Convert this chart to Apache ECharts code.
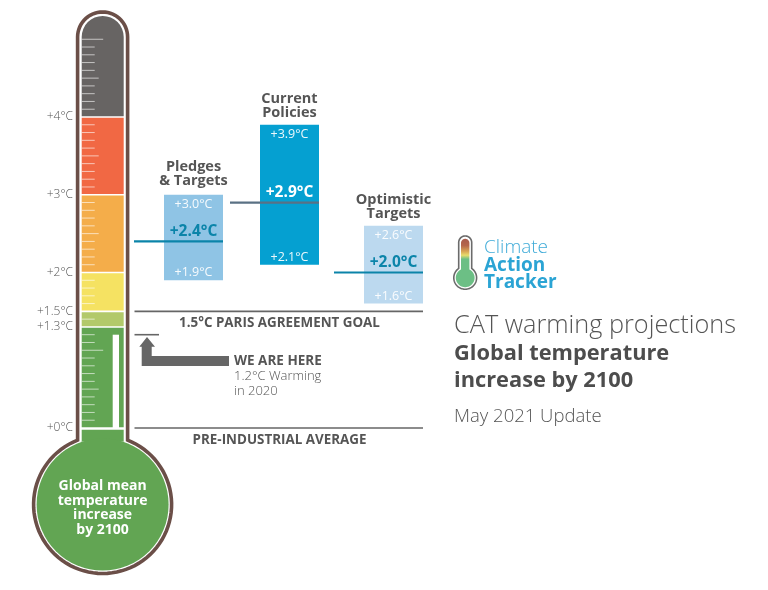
<!DOCTYPE html>
<html>
<head>
  <meta http-equiv="Content-Type" content="text/html; charset=utf-8"/>
  <title>CAT warming projections</title>
  <script src="https://cdnjs.cloudflare.com/ajax/libs/echarts/6.0.0/echarts.min.js"></script>
  <style>html,body{margin:0;padding:0;background:#fff}</style>
</head>
<body>
<div id="main" style="width:768px;height:590px"></div>
<script type="text/javascript">
// thermometer scale, degrees above pre-industrial
var tempLabels = [0, 1.3, 1.5, 2, 3, 4];
var bandFrom = [0, 1.3, 1.5, 2, 3, 4];
var bandTo = [1.3, 1.5, 2, 3, 4, 5.3];
var currentWarming = 1.2;

// scenarios
var scenarioNames = ['Pledges\n& Targets', 'Current\nPolicies', 'Optimistic\nTargets'];
var scenarioHigh = [3.0, 3.9, 2.6];
var scenarioMean = [2.4, 2.9, 2.0];
var scenarioLow = [1.9, 2.1, 1.6];

// reference lines
var refValues = [1.5, 0];
var refNames = ['1.5°C PARIS AGREEMENT GOAL', 'PRE-INDUSTRIAL AVERAGE'];

// colours
var bandColors = ['#62a553', '#b2c96a', '#f5e262', '#f4ad4a', '#f16844', '#676463'];
var barColors = ['#8fc4e5', '#05a0d1', '#bcd9ef'];
var meanLineColors = ['#0b84a9', '#5a7184', '#0b84a9'];
var meanTextColors = ['#0b84a9', '#ffffff', '#0b84a9'];
var brown = '#6b4f48', grey = '#555555', lineGrey = '#666666';
var FONT = '"Open Sans", sans-serif';

// layout, pixels (x axis runs 1:1 with the canvas)
var barRight = [223, 319, 423];
var nameLift = [2, 0, 0];
var barW = 59, meanW = 89;
var tubeL = 81.7, tubeR = 123.7;

function fmt(v) { return '+' + v.toFixed(1) + '°C'; }

// outline of a thermometer: tube + dome on top + bulb at the bottom
function thermo(cx, half, domeY, bulbY, r) {
  var pts = [], i, a;
  var a0 = Math.asin(half / r);
  var joinY = bulbY - Math.cos(a0) * r;
  pts.push([cx - half, joinY]);
  for (i = 0; i <= 30; i++) {
    a = Math.PI - Math.PI * i / 30;
    pts.push([cx + Math.cos(a) * half, domeY - Math.sin(a) * half]);
  }
  pts.push([cx + half, joinY]);
  for (i = 1; i < 80; i++) {
    a = a0 + (2 * Math.PI - 2 * a0) * i / 80;
    pts.push([cx + Math.sin(a) * r, bulbY - Math.cos(a) * r]);
  }
  return pts;
}

function txt(x, y, text, size, weight, color, align) {
  return {
    type: 'text', z: 20,
    style: {
      x: x, y: y, text: text, fill: color, align: align || 'left', verticalAlign: 'middle',
      font: weight + ' ' + size + 'px ' + FONT
    }
  };
}

function lineEl(x1, x2, y, color, w) {
  return { type: 'line', shape: { x1: x1, y1: y, x2: x2, y2: y }, style: { stroke: color, lineWidth: w } };
}

var chart = echarts.init(document.getElementById('main'));

chart.setOption({
  animation: false,
  grid: { left: 0, right: 0, top: 0.375, bottom: 162 },
  xAxis: { type: 'value', min: 0, max: 768, show: false },
  yAxis: {
    type: 'value', min: 0, max: 5.5, offset: -80,
    axisLine: { show: false }, axisTick: { show: false }, splitLine: { show: false },
    axisLabel: {
      customValues: tempLabels, margin: 7, color: grey, fontFamily: FONT, fontSize: 12,
      fontWeight: 300, padding: [2, 0, 0, 0],
      formatter: function (v) { return '+' + v + '°C'; }
    }
  },
  graphic: [
    // thermometer glass and bulb
    { type: 'polygon', z: 1, shape: { points: thermo(102.6, 25, 37, 504.5, 69) }, style: { fill: '#fff', stroke: brown, lineWidth: 3.6 } },
    { type: 'polygon', z: 2, shape: { points: [[tubeL, 429.7], [tubeR, 429.7], [tubeR, 441.5], [tubeL, 441.5]] }, style: { fill: bandColors[0] } },
    { type: 'circle', z: 2, shape: { cx: 102.6, cy: 504.5, r: 66 }, style: { fill: bandColors[0] } },
    // arrow to the current warming line
    { type: 'polygon', z: 3, shape: { points: [[147, 337], [155, 346.7], [151.7, 346.7], [151.7, 356], [229, 356], [229, 366], [141.7, 366], [141.7, 346.7], [139.3, 346.7]] }, style: { fill: lineGrey } },
    // logo
    { type: 'polygon', z: 3, shape: { points: thermo(465.2, 6.5, 242.5, 277.8, 11.4) }, style: { fill: '#fff', stroke: '#6b6b6b', lineWidth: 1.6 } },
    { type: 'polygon', z: 4, shape: { points: thermo(465.2, 4.2, 243, 277.8, 9.4) }, style: { fill: {
      type: 'linear', x: 0, y: 0, x2: 0, y2: 1,
      colorStops: [{ offset: 0, color: '#a85a4c' }, { offset: 0.14, color: '#b5664c' }, { offset: 0.26, color: '#d9a655' }, { offset: 0.34, color: '#e8dc6c' }, { offset: 0.42, color: '#6cbf85' }, { offset: 1, color: '#6cbf85' }]
    } } },
    // text
    { type: 'text', z: 20, style: { x: 102.6, y: 508, text: 'Global mean\ntemperature\nincrease\nby 2100', fill: '#fff', align: 'center', verticalAlign: 'middle', lineHeight: 14.7, font: 'bold 14px ' + FONT } },
    txt(234, 361, 'WE ARE HERE', 13.5, 'bold', grey),
    txt(234, 376, '1.2°C Warming', 13, 300, grey),
    txt(234, 391, 'in 2020', 13, 300, grey),
    txt(484, 248, 'Climate', 19, 300, '#3fabd8'),
    txt(484, 266, 'Action', 19, 'bold', '#2ba4d4'),
    txt(484, 283, 'Tracker', 19, 'bold', '#2ba4d4'),
    txt(454, 326, 'CAT warming projections', 25.3, 300, '#555555'),
    txt(454, 354, 'Global temperature', 21.8, 'bold', '#4d4d4d'),
    txt(454, 381, 'increase by 2100', 21.8, 'bold', '#4d4d4d'),
    txt(454, 417, 'May 2021 Update', 18.5, 300, '#555555')
  ],
  series: [
    {
      // coloured bands inside the tube
      type: 'custom', coordinateSystem: 'cartesian2d', clip: false, z: 5,
      data: bandFrom.map(function (v, i) { return [v, bandTo[i]]; }),
      renderItem: function (params, api) {
        var i = params.dataIndex;
        var yLo = api.coord([0, api.value(0)])[1];
        var yHi = api.coord([0, api.value(1)])[1];
        var last = i === bandColors.length - 1;
        return {
          type: 'rect',
          shape: { x: tubeL, y: yHi + (last ? 0 : 0.8), width: tubeR - tubeL, height: yLo - yHi - (last ? 0.8 : 1.6), r: last ? [21, 21, 0, 0] : 0 },
          style: { fill: bandColors[i] }
        };
      }
    },
    {
      // tenth-of-a-degree ticks, longer at each half and whole degree
      type: 'custom', coordinateSystem: 'cartesian2d', clip: false, z: 6,
      data: [1,2,3,4,5,6,7,8,9,10,11,12,14,16,17,18,19,21,22,23,24,25,26,27,28,29,31,32,33,34,35,36,37,38,39,41,42,43,44,45,46,47,48,49,50],
      renderItem: function (params, api) {
        var n = api.value(0);
        var y = api.coord([0, n / 10])[1];
        var len = n % 10 === 0 ? 21.5 : (n % 5 === 0 ? 17 : 13);
        return lineEl(tubeL, tubeL + len, y, 'rgba(255,255,255,0.62)', 1);
      },
      encode: { y: 0 }
    },
    {
      // white column, warming so far
      type: 'custom', coordinateSystem: 'cartesian2d', clip: false, z: 7,
      data: [[currentWarming]],
      renderItem: function (params, api) {
        var top = api.coord([0, api.value(0)])[1], base = api.coord([0, 0])[1];
        return { type: 'rect', shape: { x: 112.7, y: top, width: 6.3, height: base - top }, style: { fill: '#fff' } };
      }
    },
    {
      // reference lines and their captions
      type: 'custom', coordinateSystem: 'cartesian2d', clip: false, z: 8,
      data: refValues.map(function (v) { return [v]; }),
      renderItem: function (params, api) {
        var y = api.coord([0, api.value(0)])[1];
        return {
          type: 'group',
          children: [
            lineEl(134.5, 423, y, lineGrey, 1.6),
            txt(279.5, y + 12, refNames[params.dataIndex], 13.4, 'bold', grey, 'center')
          ]
        };
      }
    },
    {
      type: 'custom', coordinateSystem: 'cartesian2d', clip: false, z: 8,
      data: [[currentWarming]],
      renderItem: function (params, api) {
        return lineEl(134.5, 159, api.coord([0, api.value(0)])[1], lineGrey, 1.6);
      }
    },
    {
      // scenario ranges
      type: 'custom', coordinateSystem: 'cartesian2d', clip: false, z: 10,
      data: scenarioNames.map(function (n, i) { return [scenarioHigh[i], scenarioMean[i], scenarioLow[i]]; }),
      renderItem: function (params, api) {
        var i = params.dataIndex;
        var right = barRight[i], cx = right - barW / 2;
        var hi = api.value(0), mean = api.value(1), lo = api.value(2);
        var yHi = api.coord([0, hi])[1], yMean = api.coord([0, mean])[1], yLo = api.coord([0, lo])[1];
        return {
          type: 'group',
          children: [
            { type: 'rect', shape: { x: right - barW, y: yHi, width: barW, height: yLo - yHi }, style: { fill: barColors[i] } },
            lineEl(right - meanW, right, yMean, meanLineColors[i], 2.2),
            txt(cx, yHi + 9.5, fmt(hi), 12.5, 400, 'rgba(255,255,255,0.92)', 'center'),
            txt(cx, yLo - 7.5, fmt(lo), 12.5, 400, 'rgba(255,255,255,0.92)', 'center'),
            txt(cx, yMean - 9.5, fmt(mean), 15.5, 'bold', meanTextColors[i], 'center'),
            txt(cx, yHi - 26 - nameLift[i], scenarioNames[i].split('\n')[0], 14.5, 'bold', grey, 'center'),
            txt(cx, yHi - 11.5 - nameLift[i], scenarioNames[i].split('\n')[1], 14.5, 'bold', grey, 'center')
          ]
        };
      }
    }
  ]
});
</script>
</body>
</html>
